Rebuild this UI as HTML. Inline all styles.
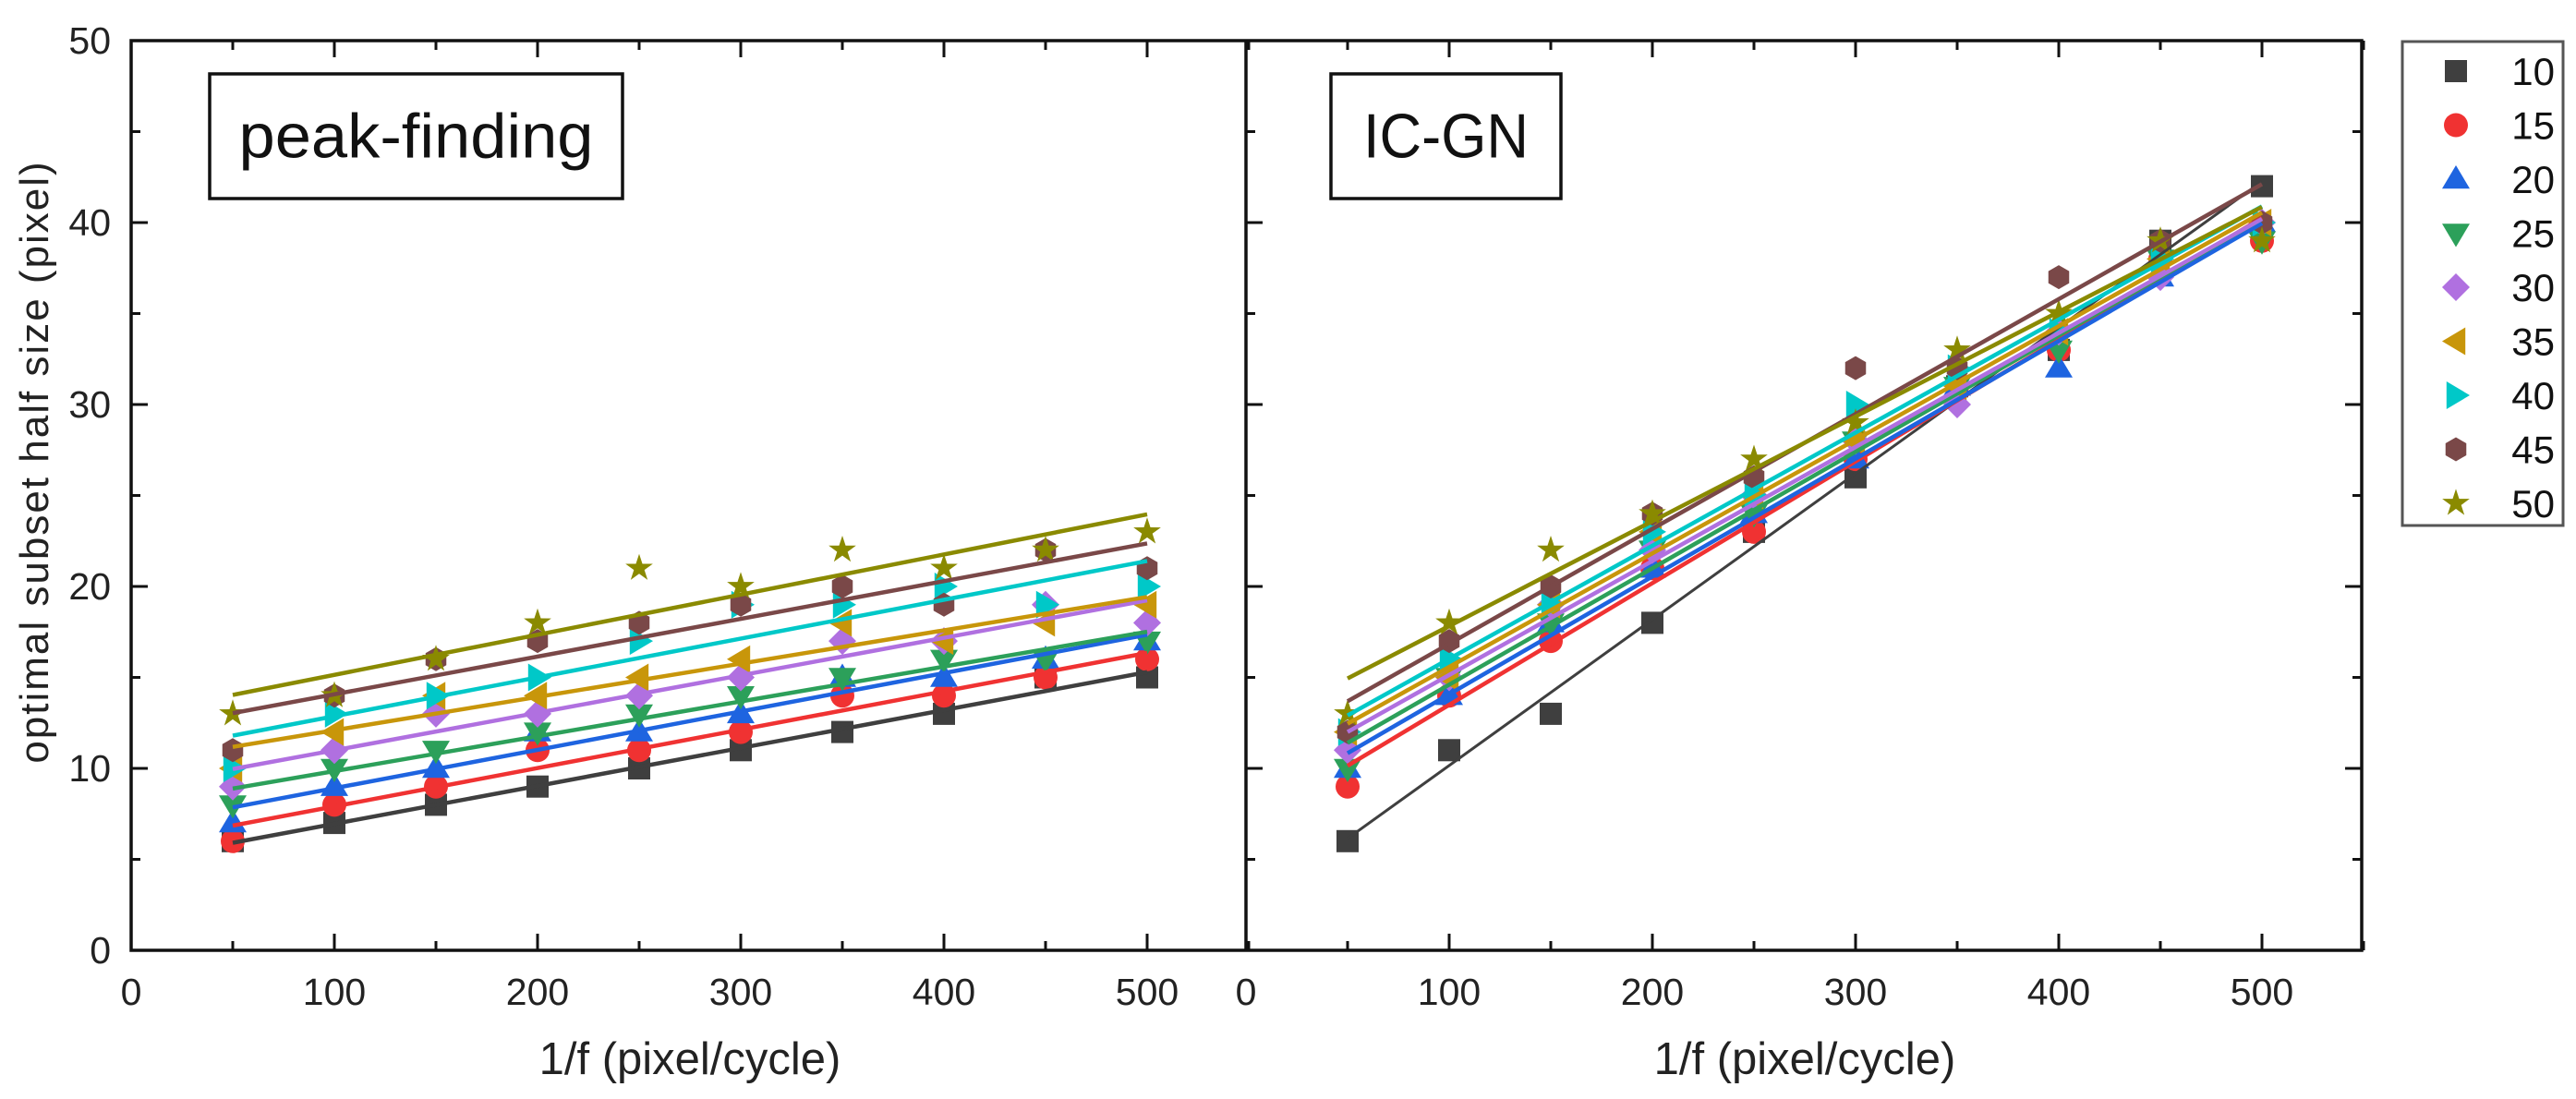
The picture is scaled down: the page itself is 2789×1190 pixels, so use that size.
<!DOCTYPE html>
<html><head><meta charset="utf-8"><style>
html,body{margin:0;padding:0;background:#fff;}
svg{display:block;font-family:"Liberation Sans",sans-serif;}
</style></head><body>
<svg id="chart" width="2789" height="1190" viewBox="0 0 2789 1190" xmlns="http://www.w3.org/2000/svg">
<g id="g-axes"></g>
<g id="g-left"></g>
<g id="g-right"></g>
<g id="g-legend"></g>
<g id="g-text"></g>
</svg>
<script>
const xVals = [50,100,150,200,250,300,350,400,450,500];
const seriesNames = ["10","15","20","25","30","35","40","45","50"];
const colors = ["#3f3f3f","#f03232","#1e64e0","#2ca05a","#b070e0","#c8960a","#00c8c8","#7a4848","#8a8a00"];
const shapes = ["square","circle","up","down","diamond","left","right","hexagon","star"];
const peakData = [
 [6,7,8,9,10,11,12,13,15,15],
 [6,8,9,11,11,12,14,14,15,16],
 [7,9,10,12,12,13,15,15,16,17],
 [8,10,11,12,13,14,15,16,16,17],
 [9,11,13,13,14,15,17,17,19,18],
 [10,12,14,14,15,16,18,17,18,19],
 [10,13,14,15,17,19,19,20,19,20],
 [11,14,16,17,18,19,20,19,22,21],
 [13,14,16,18,21,20,22,21,22,23]
];
const icgnData = [
 [6,11,13,18,23,26,31,33,39,42],
 [9,14,17,21,23,27,31,33,38,39],
 [10,14,18,21,24,27,31,32,37,40],
 [10,15,18,22,24,28,31,33,38,39],
 [11,15,19,22,25,28,30,34,37,40],
 [12,15,19,23,25,28,31,34,38,40],
 [12,16,19,23,25,30,32,34,38,40],
 [12,17,20,24,26,32,32,37,39,40],
 [13,18,22,24,27,29,33,35,39,39]
];
const xTickLabels = ["0","100","200","300","400","500"];
const yTickLabels = ["0","10","20","30","40","50"];

const NS="http://www.w3.org/2000/svg";
const X0L=142, X0R=1349, XPX=2.2, YBOT=1029, YPX=19.7, RIGHT=2557, TOP=44;
function xs(panel,v){return (panel===0?X0L:X0R)+v*XPX;}
function ys(v){return YBOT-v*YPX;}
function mk(tag,attrs,parent){const e=document.createElementNS(NS,tag);for(const k in attrs)e.setAttribute(k,attrs[k]);parent.appendChild(e);return e;}

const gA=document.getElementById('g-axes');
let fr=mk('rect',{x:X0L,y:TOP,width:RIGHT-X0L,height:YBOT-TOP,fill:'none',stroke:'#111','stroke-width':3.5},gA);


let dv=mk('line',{x1:X0R,y1:TOP,x2:X0R,y2:YBOT,stroke:'#111','stroke-width':3.5},gA);


for(let p=0;p<2;p++){
  for(let v=50;v<=550;v+=50){
    const x=xs(p,v), L=(v%100===0)?18:10;
    let t1=mk('line',{x1:x,y1:YBOT,x2:x,y2:YBOT-L,stroke:'#111','stroke-width':3},gA);
    
    
    let t2=mk('line',{x1:x,y1:TOP,x2:x,y2:TOP+L,stroke:'#111','stroke-width':3},gA);
    
    
  }
  xTickLabels.forEach((lab,i)=>{
    const t=mk('text',{x:xs(p,i*100),y:1088,'font-size':41,'text-anchor':'middle',fill:'#222'},gA);
    t.textContent=lab;
    
    
  });
  const tt=mk('text',{x:xs(p,275),y:1163,'font-size':49,'text-anchor':'middle',fill:'#222'},gA);
  tt.textContent='1/f (pixel/cycle)';
  
  
}
for(let v=5;v<50;v+=5){
  const L=(v%10===0)?18:10;
  let t=mk('line',{x1:X0L,y1:ys(v),x2:X0L+L,y2:ys(v),stroke:'#111','stroke-width':3},gA);
  
  
  let a=mk('line',{x1:X0R,y1:ys(v),x2:X0R+L,y2:ys(v),stroke:'#111','stroke-width':3},gA);
  
  
  let b=mk('line',{x1:RIGHT,y1:ys(v),x2:RIGHT-L,y2:ys(v),stroke:'#111','stroke-width':3},gA);
  
  
}
yTickLabels.forEach((lab,i)=>{
  const t=mk('text',{x:120,y:ys(i*10)+14,'font-size':41,'text-anchor':'end',fill:'#222'},gA);
  t.textContent=lab;
  
  
});
const yt=mk('text',{x:0,y:0,'font-size':44,'text-anchor':'middle',fill:'#222','letter-spacing':'2',transform:'translate(52,500) rotate(-90)'},gA);
yt.textContent='optimal subset half size (pixel)';



function marker(shape,cx,cy,color,parent,s){
  s=s||12;let e;
  if(shape==='square')e=mk('rect',{x:cx-s,y:cy-s,width:2*s,height:2*s,fill:color},parent);
  else if(shape==='circle')e=mk('circle',{cx:cx,cy:cy,r:s+1,fill:color},parent);
  else{
    let pts;
    const h=s*1.25;
    if(shape==='up')pts=[[cx,cy-h],[cx+h,cy+s*0.85],[cx-h,cy+s*0.85]];
    else if(shape==='down')pts=[[cx,cy+h],[cx+h,cy-s*0.85],[cx-h,cy-s*0.85]];
    else if(shape==='diamond')pts=[[cx,cy-h],[cx+h,cy],[cx,cy+h],[cx-h,cy]];
    else if(shape==='left')pts=[[cx-h,cy],[cx+s*0.85,cy-h],[cx+s*0.85,cy+h]];
    else if(shape==='right')pts=[[cx+h,cy],[cx-s*0.85,cy-h],[cx-s*0.85,cy+h]];
    else if(shape==='hexagon'){pts=[];for(let i=0;i<6;i++){const a=Math.PI/6+i*Math.PI/3;pts.push([cx+(s+1)*Math.cos(a),cy+(s+1)*Math.sin(a)]);}}
    else {pts=[];for(let i=0;i<10;i++){const a=-Math.PI/2+i*Math.PI/5, r=i%2?s*0.5:s*1.3;pts.push([cx+r*Math.cos(a),cy+r*Math.sin(a)]);}}
    e=mk('polygon',{points:pts.map(p=>p.join(',')).join(' '),fill:color},parent);
  }
  return e;
}
function fit(ys_){
  const n=xVals.length;let sx=0,sy=0,sxx=0,sxy=0;
  for(let i=0;i<n;i++){sx+=xVals[i];sy+=ys_[i];sxx+=xVals[i]*xVals[i];sxy+=xVals[i]*ys_[i];}
  const b=(n*sxy-sx*sy)/(n*sxx-sx*sx);return [ (sy-b*sx)/n, b ];
}
function drawPanel(p,data,g){
  data.forEach((arr,si)=>{
    const sg=mk('g',{},g);
    
    
    arr.forEach((v,i)=>{
      const m=marker(shapes[si],xs(p,xVals[i]),ys(v),colors[si],sg);
      
      
    });
  });
  data.forEach((arr,si)=>{
    const [a,b]=fit(arr);
    const ln=mk('line',{x1:xs(p,50),y1:ys(a+b*50),x2:xs(p,500),y2:ys(a+b*500),stroke:colors[si],'stroke-width':(p===1&&si===0)?3:4.5},g);
    
    
  });
}
drawPanel(0,peakData,document.getElementById('g-left'));
drawPanel(1,icgnData,document.getElementById('g-right'));

const gT=document.getElementById('g-text');
function box(x,y,w,h,label,name,tw){
  const r=mk('rect',{x:x,y:y,width:w,height:h,fill:'#fff',stroke:'#111','stroke-width':3.5},gT);
  
  
  const t=mk('text',{x:x+w/2,y:y+h/2+23,'font-size':68,'text-anchor':'middle',fill:'#111',textLength:tw,lengthAdjust:'spacingAndGlyphs'},gT);
  t.textContent=label;
  
  
}
box(227,80,447,135,'peak-finding','peak-finding',384);
box(1441,80,249,135,'IC-GN','ic-gn',179);

const gL=document.getElementById('g-legend');
const lr=mk('rect',{x:2601,y:45,width:174,height:524,fill:'#fff',stroke:'#555','stroke-width':3},gL);


seriesNames.forEach((n,i)=>{
  const cy=77+58.5*i;
  const m=marker(shapes[i],2659,cy,colors[i],gL,12);
  
  
  const t=mk('text',{x:2766,y:cy+15,'font-size':42,'text-anchor':'end',fill:'#111'},gL);
  t.textContent=n;
  
  
});
</script>
</body></html>
